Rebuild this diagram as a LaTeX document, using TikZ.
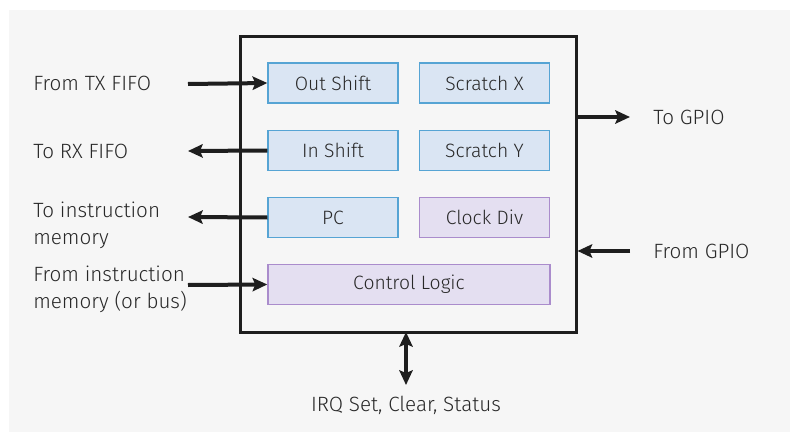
\documentclass[tikz,border=0pt]{standalone}
\usepackage{fontspec}
\setmainfont{Fira Sans Light}
\usepackage{tikz}
\usetikzlibrary{arrows.meta, positioning}
\definecolor{bgpage}{RGB}{246,246,246}
\definecolor{mydark}{RGB}{30,30,30}
\definecolor{mytext}{RGB}{40,40,40}
\definecolor{regfill}{RGB}{218,229,243}
\definecolor{regdraw}{RGB}{86,164,212}
\definecolor{ctlfill}{RGB}{228,223,241}
\definecolor{ctldraw}{RGB}{170,140,204}
\tikzset{
  smbox/.style={rectangle, draw=mydark, fill=bgpage, line width=2.25pt,
    minimum width=252pt, minimum height=222pt, inner sep=0pt},
  regbox/.style={rectangle, draw=regdraw, fill=regfill, line width=1.1pt,
    minimum width=97.5pt, minimum height=30pt, inner sep=0pt,
    font=\fontsize{14.5}{17}\selectfont, text=mytext},
  ctlbox/.style={regbox, draw=ctldraw, fill=ctlfill},
  sig/.style={anchor=west, align=left, inner sep=0pt, text=mytext,
    font=\fontsize{15.5}{20}\selectfont},
  arrow/.style={-{Stealth[length=11pt, width=10pt, inset=2pt]}, line width=3pt, color=mydark},
  dblarrow/.style={arrow, {Stealth[length=11pt, width=10pt, inset=2pt]}-{Stealth[length=11pt, width=10pt, inset=2pt]}}
}
\begin{document}
\begin{tikzpicture}[x=0.75pt, y=-0.75pt]
  % page and background
  \useasboundingbox (0,0) rectangle (790,432);
  \fill[bgpage] (9,10) rectangle (790,432);

  % state machine frame
  \node[smbox] (sm) at (408,184) {};

  % registers
  \node[regbox] (osr) at (333,83) {Out Shift};
  \node[regbox] (isr) at (333,150.5) {In Shift};
  \node[regbox] (pc) at (333,217.5) {PC};
  \node[regbox] (scx) at (484.5,83) {Scratch X};
  \node[regbox] (scy) at (484.5,150.5) {Scratch Y};
  \node[ctlbox] (clk) at (484.5,217.5) {Clock Div};
  \node[ctlbox, minimum width=211.5pt] (ctl) at (409,284.5) {Control Logic};

  % signal labels
  \node[sig] (txfifo) at (33,83) {From TX FIFO};
  \node[sig] (rxfifo) at (33,151) {To RX FIFO};
  \node[sig] (imemout) at (33,225) {To instruction\\memory};
  \node[sig] (imemin) at (33,289.5) {From instruction\\memory (or bus)};
  \node[sig] (gpioout) at (653,117) {To GPIO};
  \node[sig] (gpioin) at (653,251) {From GPIO};
  \node[inner sep=0pt, text=mytext, font=\fontsize{15.5}{18}\selectfont] (irq) at (406,405) {IRQ Set, Clear, Status};

  % free ends of the connectors
  \coordinate (txend) at (188,84);
  \coordinate (rxend) at (188,151);
  \coordinate (imoend) at (188,217);
  \coordinate (imiend) at (188,285);
  \coordinate (goend) at (630,117);
  \coordinate (giend) at (630,251);
  \coordinate (irqtop) at (406,332);
  \coordinate (irqend) at (406,385);

  % connectors
  \draw[arrow] (txend) -- (osr.west);
  \draw[arrow] (isr.west) -- (rxend);
  \draw[arrow] (pc.west) -- (imoend);
  \draw[arrow] (imiend) -- (ctl.west);
  \draw[arrow] (sm.east |- goend) -- (goend);
  \draw[arrow] (giend) -- (sm.east |- giend);
  \draw[dblarrow] (irqtop) -- (irqend);
\end{tikzpicture}
\end{document}
